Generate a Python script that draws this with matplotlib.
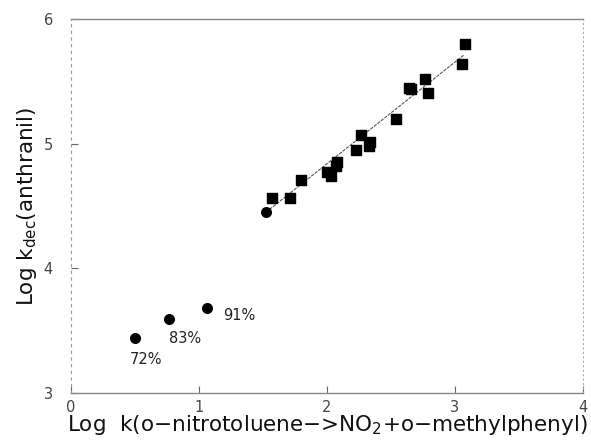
import matplotlib
matplotlib.use("Agg")
import matplotlib.pyplot as plt

# data
sq_x = [1.57, 1.71, 1.80, 2.00, 2.03, 2.07, 2.08, 2.23, 2.27, 2.33, 2.34,
        2.54, 2.64, 2.66, 2.77, 2.79, 3.06, 3.08]
sq_y = [4.56, 4.56, 4.71, 4.77, 4.74, 4.82, 4.85, 4.95, 5.07, 4.98, 5.01,
        5.20, 5.45, 5.44, 5.52, 5.41, 5.64, 5.80]
circ_x = [0.50, 0.77, 1.06, 1.525]
circ_y = [3.44, 3.59, 3.68, 4.45]
pct_labels = ["72%", "83%", "91%"]
pct_x = [0.59, 0.895, 1.315]
pct_y = [3.27, 3.44, 3.62]
fit_x = [1.525, 3.07]
fit_y = [4.45, 5.71]
xticks = [0, 1, 2, 3, 4]
yticks = [3, 4, 5, 6]

plt.rcParams['font.family'] = ['DejaVu Sans']

fig = plt.figure(figsize=(5.91, 4.41), dpi=100)
ax = fig.add_axes([0.120, 0.109, 0.866, 0.848])

ax.plot(fit_x, fit_y, color='#555555', lw=0.8, ls=(0, (3, 1)))
ax.scatter(sq_x, sq_y, marker='s', s=42, color='black', zorder=3)
ax.scatter(circ_x, circ_y, marker='o', s=48, color='black', zorder=3)
for t, x, y in zip(pct_labels, pct_x, pct_y):
    ax.text(x, y, t, ha='center', va='center', fontsize=10.5, color='#222222')

ax.set_xlim(0, 4)
ax.set_ylim(3, 6)
ax.set_xticks(xticks)
ax.set_yticks(yticks)
ax.tick_params(direction='in', length=5, width=0.8, color='#666666',
               labelsize=10.5, labelcolor='#444444')
ax.tick_params(axis='x', pad=5)
ax.tick_params(axis='y', pad=13)

for side in ['top', 'bottom']:
    ax.spines[side].set_color('#888888')
    ax.spines[side].set_linewidth(1.0)
ax.spines['left'].set_color('#999999')
ax.spines['left'].set_linewidth(0.8)
ax.spines['left'].set_linestyle((0, (2, 4)))
ax.spines['right'].set_color('#aaaaaa')
ax.spines['right'].set_linewidth(0.8)
ax.spines['right'].set_linestyle((0, (1, 3)))

ax.set_xlabel('Log  k(o\u2212nitrotoluene\u2212>NO$_2$+o\u2212methylphenyl)',
              fontsize=15.5, color='#111111', labelpad=-1)
ax.set_ylabel('Log k$_{\\mathrm{dec}}$(anthranil)', fontsize=15.5,
              color='#111111', labelpad=3)

fig.savefig('out.png', dpi=100)
